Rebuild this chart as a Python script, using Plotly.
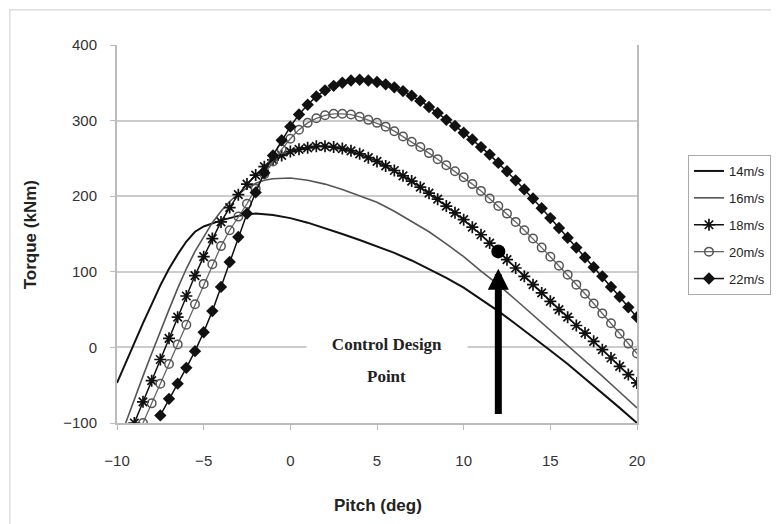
import numpy as np
import plotly.graph_objects as go

# ---------------- data ----------------
pitch_14 = [-10, -9.5, -9, -8.5, -8, -7.5, -7, -6.5, -6, -5.5, -5, -4, -3, -2, -1, 0,
            1, 2, 3, 4, 5, 6, 7, 8, 9, 10, 11, 12, 13, 14, 15, 16, 17, 18, 19, 20]
torque_14 = [-47, -20, 6, 32, 57, 82, 104, 123, 140, 153, 160, 168, 174, 177, 175, 171,
             165, 158, 150, 142, 134, 125, 115, 104, 92, 79, 64, 48, 31, 14, -4, -22, -41, -60, -80, -100]

pitch_16 = [-9.5, -9, -8.5, -8, -7.5, -7, -6.5, -6, -5.5, -5, -4.5, -4, -3.5, -3, -2.5, -2,
            -1.5, -1, -0.5, 0, 1, 2, 3, 4, 5, 6, 7, 8, 9, 10, 11, 12, 13, 14, 15, 16, 17, 18, 19, 20]
torque_16 = [-100, -68, -38, -8, 22, 50, 78, 104, 127, 147, 165, 180, 193, 203, 211, 217,
             221, 223, 224, 224, 221, 216, 209, 201, 192, 180, 167, 153, 137, 120, 101, 83, 63, 43, 23, 3,
             -17, -38, -59, -80]

pitch_18 = list(np.arange(-9, 20.01, 0.5))
torque_18 = [-100, -72, -44, -16, 12, 40, 68, 95, 120, 144, 166, 185, 202, 216, 228, 239, 248, 254,
             259, 262, 264, 266, 266, 265, 263, 260, 256, 251, 246, 240, 234, 227, 220, 212, 204, 196,
             187, 178, 169, 159, 149, 138, 127, 116, 105, 94, 83, 72, 61, 50, 40, 29, 19, 8, -3, -14,
             -25, -36, -47]

pitch_20 = list(np.arange(-8.5, 20.01, 0.5))
torque_20 = [-100, -74, -48, -22, 4, 30, 57, 84, 110, 134, 155, 173, 190, 210, 229, 246, 262, 276,
             288, 297, 303, 307, 309, 309, 308, 305, 301, 297, 292, 286, 279, 272, 265, 257, 249, 241,
             233, 225, 216, 207, 197, 187, 177, 166, 155, 144, 132, 120, 108, 96, 83, 71, 58, 45, 32,
             18, 5, -8]

pitch_22 = list(np.arange(-7.5, 20.01, 0.5))
torque_22 = [-90, -68, -48, -27, -5, 20, 48, 80, 113, 146, 177, 205, 231, 254, 274, 292, 308, 321,
             332, 340, 346, 350, 353, 354, 353, 351, 348, 344, 339, 333, 326, 318, 310, 301, 293, 284,
             275, 265, 255, 244, 233, 221, 209, 197, 184, 171, 158, 145, 132, 119, 106, 94, 80, 67, 53, 40]

design_pitch = [12]
design_torque = [127]
arrow_base_torque = -90
arrow_tip_torque = 104

series_names = ["14m/s", "16m/s", "18m/s", "20m/s", "22m/s"]
x_ticks = [-10, -5, 0, 5, 10, 15, 20]
y_ticks = [-100, 0, 100, 200, 300, 400]

assert len(pitch_14) == len(torque_14)
assert len(pitch_16) == len(torque_16)
assert len(pitch_18) == len(torque_18)
assert len(pitch_20) == len(torque_20)
assert len(pitch_22) == len(torque_22)

# ---------------- figure ----------------
fig = go.Figure()

fig.add_trace(go.Scatter(x=pitch_14, y=torque_14, mode="lines", name=series_names[0],
                         legendgroup="a", line=dict(color="#111111", width=2)))
fig.add_trace(go.Scatter(x=pitch_16, y=torque_16, mode="lines", name=series_names[1],
                         legendgroup="b", line=dict(color="#555555", width=1.6)))
fig.add_trace(go.Scatter(x=pitch_18, y=torque_18, mode="lines+markers", name=series_names[2],
                         legendgroup="c", line=dict(color="#111111", width=1.5),
                         marker=dict(symbol="asterisk-open", size=10, color="#111111",
                                     line=dict(color="#111111", width=1.7))))
fig.add_trace(go.Scatter(x=pitch_20, y=torque_20, mode="lines+markers", name=series_names[3],
                         legendgroup="d", line=dict(color="#666666", width=1.3),
                         marker=dict(symbol="circle-open", size=8.5, color="#555555",
                                     line=dict(color="#555555", width=1.5))))
fig.add_trace(go.Scatter(x=pitch_22, y=torque_22, mode="lines+markers", name=series_names[4],
                         legendgroup="e", line=dict(color="#111111", width=1.5),
                         marker=dict(symbol="diamond", size=9.5, color="#111111")))
fig.add_trace(go.Scatter(x=design_pitch, y=design_torque, mode="markers", showlegend=False,
                         marker=dict(symbol="circle", size=14, color="#000000")))

fig.add_annotation(x=design_pitch[0], y=arrow_tip_torque, ax=design_pitch[0], ay=arrow_base_torque,
                   xref="x", yref="y", axref="x", ayref="y", text="", showarrow=True,
                   arrowhead=2, arrowsize=0.6, arrowwidth=7, arrowcolor="#000000")

serif = "Liberation Serif, Times New Roman, serif"
fig.add_annotation(x=5.55, y=5, xref="x", yref="y", showarrow=False,
                   text="<b>Control Design</b>",
                   font=dict(family=serif, size=17, color="#222222"),
                   bgcolor="#ffffff", width=158, height=30, align="center")
fig.add_annotation(x=5.55, y=-38, xref="x", yref="y", showarrow=False,
                   text="<b>Point</b>",
                   font=dict(family=serif, size=17, color="#222222"))

fig.add_annotation(x=-0.167, y=0.497, xref="paper", yref="paper", showarrow=False,
                   xanchor="center", yanchor="middle",
                   text="<b>Torque (kNm)</b>", textangle=-90,
                   font=dict(family="Arial, Liberation Sans, sans-serif", size=17, color="#222222"))
fig.add_annotation(x=0.502, y=-0.217, xref="paper", yref="paper", showarrow=False,
                   xanchor="center", yanchor="middle",
                   text="<b>Pitch (deg)</b>",
                   font=dict(family="Arial, Liberation Sans, sans-serif", size=17, color="#222222"))

# the page body adds an 8px offset, so margins are reduced by 8px on the left/top
fig.update_layout(
    width=779, height=524,
    margin=dict(l=109, r=150, t=37, b=109),
    paper_bgcolor="#ffffff", plot_bgcolor="#ffffff",
    font=dict(family="Arial, Liberation Sans, sans-serif", size=15, color="#333333"),
    showlegend=True,
    legend=dict(x=1.098, y=0.709, xanchor="left", yanchor="top",
                bordercolor="#aaaaaa", borderwidth=1, bgcolor="#ffffff",
                font=dict(size=13, color="#222222"), itemwidth=30, tracegroupgap=7),
    shapes=[dict(type="rect", xref="paper", yref="paper", x0=-0.206, x1=1.269, y0=-0.35, y1=1.093,
                 line=dict(color="#dddddd", width=1.5), fillcolor="rgba(0,0,0,0)", layer="below")],
)
fig.update_xaxes(range=[-10, 20], tickvals=x_ticks, showgrid=False, zeroline=False,
                 showline=True, linecolor="#bbbbbb", linewidth=2, ticks="outside",
                 ticklen=5, tickcolor="#bbbbbb", ticklabelstandoff=18,
                 tickfont=dict(size=15, color="#333333"))
fig.update_yaxes(range=[-100, 400], tickvals=y_ticks, showgrid=True, gridcolor="#cccccc",
                 gridwidth=2, zeroline=False, showline=True, linecolor="#bbbbbb", linewidth=2,
                 mirror=True, ticks="outside", ticklen=5, tickcolor="#bbbbbb", ticklabelstandoff=10,
                 tickfont=dict(size=15, color="#333333"))

fig.write_html("out.html")
